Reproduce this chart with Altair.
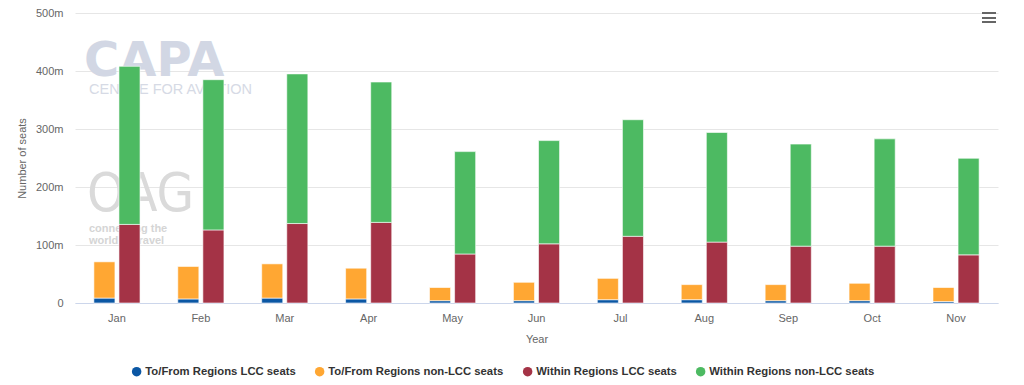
import altair as alt
import pandas as pd

months = ["Jan", "Feb", "Mar", "Apr", "May", "Jun", "Jul", "Aug", "Sep", "Oct", "Nov"]
series_names = [
    "To/From Regions LCC seats",
    "To/From Regions non-LCC seats",
    "Within Regions LCC seats",
    "Within Regions non-LCC seats",
]
series_groups = ["To/From Regions", "To/From Regions", "Within Regions", "Within Regions"]
series_order = [0, 1, 0, 1]
series_colors = ["#0b57a4", "#ffa733", "#a43346", "#4dba62"]

# values in millions of seats
tofrom_lcc = [8.5, 7, 8.5, 7, 4, 4, 5.7, 5.7, 4, 4, 2.5]
tofrom_nonlcc = [62.5, 56, 59, 53, 22.7, 31.7, 36.8, 26, 27.7, 30, 24.2]
within_lcc = [135.5, 126, 137, 139, 84.5, 102, 115, 105, 98, 98, 83]
within_nonlcc = [272.5, 259, 258, 242, 176.5, 178, 201, 189, 176, 185, 166.5]

y_ticks = [0, 100, 200, 300, 400, 500]

all_series = [tofrom_lcc, tofrom_nonlcc, within_lcc, within_nonlcc]
rows = []
for name, grp, od, vals in zip(series_names, series_groups, series_order, all_series):
    for m, v in zip(months, vals):
        rows.append({"month": m, "series": name, "group": grp, "ord": od, "value": v})
df = pd.DataFrame(rows)

FONT = "Liberation Sans"
W, H = 923, 290

bars = alt.Chart(df).mark_bar(stroke="#ffffff", strokeWidth=0.6).encode(
    x=alt.X("month:N", sort=months, title="Year",
            scale=alt.Scale(paddingInner=0.45, paddingOuter=0.225),
            axis=alt.Axis(labelAngle=0, ticks=False, domainColor="#ccd6eb", domainWidth=1,
                          labelColor="#666666", labelFontSize=11, labelFont=FONT, labelPadding=9,
                          titleColor="#666666", titleFontSize=11, titleFont=FONT,
                          titleFontWeight="normal", titleY=36, titleBaseline="middle")),
    xOffset=alt.XOffset("group:N", scale=alt.Scale(paddingInner=0.16, paddingOuter=0)),
    y=alt.Y("value:Q", stack="zero", title="Number of seats",
            scale=alt.Scale(domain=[0, 500], nice=False),
            axis=alt.Axis(values=y_ticks, labelExpr="datum.value == 0 ? '0' : datum.value + 'm'",
                          domain=False, ticks=False, gridColor="#e6e6e6", gridWidth=1,
                          labelColor="#666666", labelFontSize=11, labelFont=FONT, labelPadding=12,
                          titleColor="#666666", titleFontSize=11, titleFont=FONT,
                          titleFontWeight="normal", titleX=-53, titleY=145, titleAngle=270,
                          titleAlign="center", titleBaseline="middle")),
    color=alt.Color("series:N", scale=alt.Scale(domain=series_names, range=series_colors),
                    legend=alt.Legend(title=None, orient="none", direction="horizontal",
                                      legendX=56, legendY=353, symbolType="circle", symbolSize=90,
                                      symbolStrokeWidth=0, labelFont=FONT, labelFontSize=11.3,
                                      labelFontWeight="bold", labelColor="#333333",
                                      labelOffset=3, columnPadding=18, labelLimit=400)),
    order=alt.Order("ord:Q", sort="ascending"),
)

wm1 = pd.DataFrame({"t": ["CAPA"]})
wm2 = pd.DataFrame({"t": ["CENTRE FOR AVIATION"]})
wm3 = pd.DataFrame({"t": ["OAG"]})
wm4 = pd.DataFrame({"t": ["connecting the"]})
wm5 = pd.DataFrame({"t": ["world of travel"]})

capa = alt.Chart(wm1).mark_text(font="DejaVu Sans", fontWeight="bold", fontSize=48, color="#d2d7e4",
                                align="left", baseline="alphabetic").encode(
    x=alt.value(9), y=alt.value(63), text="t:N")
centre = alt.Chart(wm2).mark_text(font=FONT, fontSize=14.5, color="#d6dae5",
                                  align="left", baseline="alphabetic").encode(
    x=alt.value(14), y=alt.value(81), text="t:N")
oag = alt.Chart(wm3).mark_text(font="'Liberation Sans Narrow', 'DejaVu Sans Condensed', Roboto, sans-serif",
                               fontSize=54, color="#dadada",
                               align="left", baseline="alphabetic").encode(
    x=alt.value(12), y=alt.value(198), text="t:N")
conn = alt.Chart(wm4).mark_text(font=FONT, fontSize=11, fontWeight="bold", color="#d5d5d5",
                                align="left", baseline="alphabetic").encode(
    x=alt.value(14), y=alt.value(219), text="t:N")
world = alt.Chart(wm5).mark_text(font=FONT, fontSize=11, fontWeight="bold", color="#d5d5d5",
                                 align="left", baseline="alphabetic").encode(
    x=alt.value(14), y=alt.value(231), text="t:N")

menu_layers = []
for yy in [0, 5, 9]:
    menu_layers.append(
        alt.Chart(wm1).mark_rule(color="#666666", strokeWidth=2).encode(
            x=alt.value(907), x2=alt.value(921), y=alt.value(yy))
    )

chart = alt.layer(capa, centre, oag, conn, world, bars, *menu_layers).properties(
    width=W, height=H,
    padding={"left": 67, "top": 5, "right": 10, "bottom": 80},
    autosize=alt.AutoSizeParams(type="none"),
    background="#ffffff",
).configure_view(stroke=None)

chart.save("out.html", embed_options={"renderer": "svg", "actions": False})
